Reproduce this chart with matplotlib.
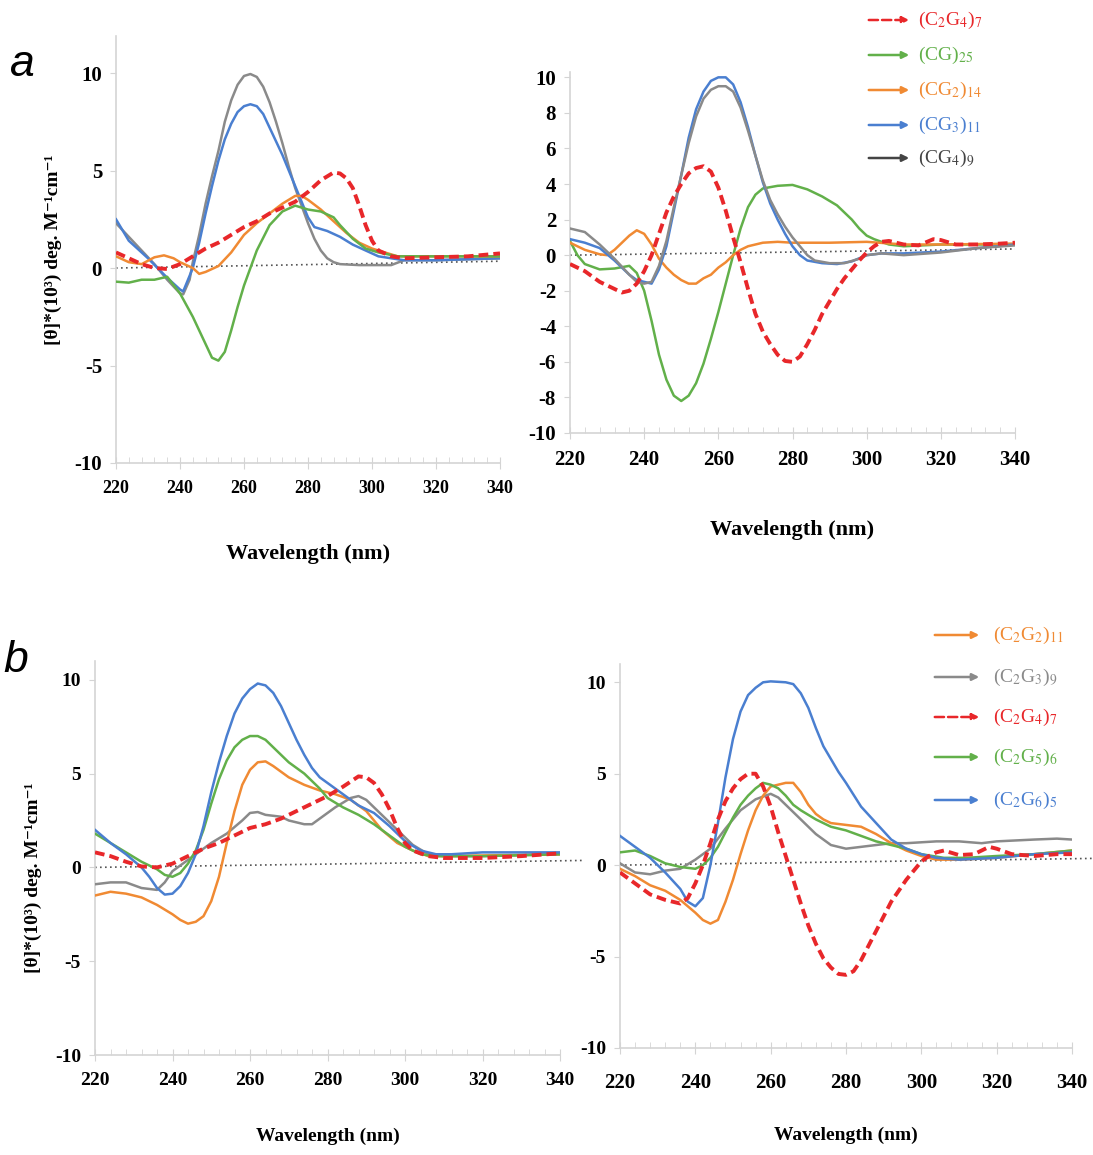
import matplotlib
matplotlib.use('Agg')
import matplotlib.pyplot as plt
from matplotlib.ticker import MultipleLocator

plt.rcParams['font.family'] = ['Liberation Serif', 'DejaVu Serif']
plt.rcParams['mathtext.fontset'] = 'stix'
plt.rcParams['axes.unicode_minus'] = False

W, H = 1093, 1155

# colours of the series
BLUE = '#4a7fd0'
ORANGE = '#f08a33'
GRAY = '#8a8a8a'
GREEN = '#62b04a'
RED = '#e8272a'

# zero reference (dotted)
zero_x = [220, 340]
zero_y = [0, 0.35]
zero_x_b = [220, 346]
zero_y_b = [0, 0.37]

# ---- panel a, left ----
a1_gray = [(220, 2.3), (224, 1.6), (228, 0.9), (232, 0.2), (236, -0.6), (240, -1.3), (241, -1.35), (243, -0.6),
           (244, 0.3), (246, 1.7), (248, 3.3), (250, 4.7), (252, 6.0), (254, 7.5), (256, 8.6), (258, 9.4),
           (260, 9.85), (262, 9.95), (264, 9.8), (266, 9.3), (268, 8.5), (270, 7.5), (272, 6.4), (274, 5.2),
           (276, 4.1), (278, 3.2), (280, 2.3), (282, 1.5), (284, 0.9), (286, 0.5), (288, 0.3), (290, 0.2),
           (296, 0.15), (306, 0.15), (310, 0.4), (320, 0.4), (330, 0.45), (340, 0.5)]
a1_blue = [(220, 2.5), (224, 1.4), (230, 0.5), (236, -0.5), (240, -1.1), (241, -1.2), (244, 0.0), (246, 1.3),
           (248, 2.8), (250, 4.2), (252, 5.5), (254, 6.6), (256, 7.4), (258, 8.0), (260, 8.3), (262, 8.4),
           (264, 8.3), (266, 7.9), (268, 7.2), (270, 6.5), (272, 5.8), (274, 5.0), (276, 4.2), (278, 3.4),
           (280, 2.6), (282, 2.1), (286, 1.9), (290, 1.6), (294, 1.2), (298, 0.9), (302, 0.6), (306, 0.5),
           (310, 0.4), (320, 0.4), (330, 0.45), (340, 0.5)]
a1_orange = [(220, 0.6), (224, 0.3), (228, 0.2), (232, 0.55), (235, 0.65), (238, 0.5), (240, 0.3), (244, 0.0),
             (246, -0.3), (248, -0.2), (252, 0.1), (256, 0.8), (260, 1.7), (264, 2.3), (268, 2.8), (272, 3.3),
             (276, 3.7), (278, 3.7), (280, 3.5), (284, 3.0), (288, 2.4), (292, 1.8), (296, 1.3), (300, 1.0),
             (304, 0.8), (308, 0.6), (320, 0.6), (340, 0.6)]
a1_green = [(220, -0.7), (224, -0.75), (228, -0.6), (232, -0.6), (236, -0.45), (240, -1.3), (244, -2.5),
            (248, -3.9), (250, -4.6), (252, -4.75), (254, -4.3), (256, -3.2), (258, -2.0), (260, -0.9),
            (262, 0.0), (264, 0.9), (268, 2.2), (272, 2.9), (276, 3.2), (278, 3.1), (280, 3.0), (284, 2.9),
            (288, 2.6), (290, 2.2), (294, 1.5), (298, 1.0), (302, 0.8), (308, 0.6), (340, 0.6)]
a1_red = [(220, 0.8), (224, 0.5), (228, 0.2), (232, 0.0), (236, -0.05), (240, 0.2), (244, 0.6), (248, 1.0),
          (252, 1.3), (256, 1.7), (260, 2.1), (264, 2.4), (268, 2.8), (272, 3.1), (276, 3.4), (280, 3.9),
          (284, 4.5), (288, 4.9), (290, 4.85), (292, 4.6), (294, 4.1), (296, 3.2), (298, 2.2), (300, 1.4),
          (302, 0.9), (306, 0.6), (310, 0.5), (320, 0.55), (330, 0.6), (340, 0.75)]

# ---- panel a, right ----
a2_blue = [(220, 0.9), (224, 0.7), (228, 0.4), (232, -0.3), (236, -1.1), (238, -1.4), (240, -1.5), (242, -1.6),
           (244, -0.8), (246, 0.5), (248, 2.5), (250, 4.5), (252, 6.6), (254, 8.2), (256, 9.2), (258, 9.8),
           (260, 10.0), (262, 10.0), (264, 9.6), (266, 8.6), (268, 7.2), (270, 5.6), (272, 4.1), (274, 2.9),
           (276, 2.0), (278, 1.2), (280, 0.5), (282, 0.0), (284, -0.3), (288, -0.45), (292, -0.5), (296, -0.35),
           (300, 0.0), (304, 0.1), (310, 0.1), (320, 0.2), (330, 0.4), (340, 0.6)]
a2_gray = [(220, 1.5), (224, 1.3), (228, 0.6), (232, -0.2), (236, -1.1), (238, -1.5), (240, -1.6), (242, -1.5),
           (244, -0.6), (246, 0.8), (248, 2.7), (250, 4.5), (252, 6.3), (254, 7.8), (256, 8.8), (258, 9.3),
           (260, 9.5), (262, 9.5), (264, 9.2), (266, 8.3), (268, 7.0), (270, 5.6), (272, 4.2), (274, 3.1),
           (276, 2.3), (278, 1.6), (280, 1.0), (282, 0.5), (284, 0.0), (286, -0.3), (290, -0.45), (294, -0.45),
           (298, -0.2), (300, 0.0), (304, 0.1), (310, 0.0), (320, 0.15), (330, 0.4), (340, 0.55)]
a2_green = [(220, 0.8), (222, 0.0), (224, -0.5), (228, -0.8), (232, -0.75), (236, -0.6), (238, -1.0),
            (240, -2.0), (242, -3.7), (244, -5.6), (246, -7.0), (248, -7.9), (250, -8.2), (252, -7.9),
            (254, -7.2), (256, -6.1), (258, -4.7), (260, -3.2), (262, -1.6), (264, 0.0), (266, 1.5), (268, 2.7),
            (270, 3.4), (272, 3.75), (276, 3.9), (280, 3.95), (284, 3.7), (288, 3.3), (292, 2.8), (296, 2.0),
            (298, 1.5), (300, 1.1), (302, 0.9), (306, 0.6), (310, 0.5), (320, 0.6), (340, 0.6)]
a2_orange = [(220, 0.7), (224, 0.3), (228, 0.05), (230, 0.0), (232, 0.3), (236, 1.1), (238, 1.4), (240, 1.2),
             (242, 0.6), (244, -0.2), (246, -0.7), (248, -1.1), (250, -1.4), (252, -1.6), (254, -1.6),
             (256, -1.3), (258, -1.1), (260, -0.7), (262, -0.4), (264, 0.0), (266, 0.3), (268, 0.5), (272, 0.7),
             (276, 0.75), (280, 0.7), (290, 0.7), (300, 0.75), (310, 0.6), (320, 0.6), (340, 0.65)]
a2_red = [(220, -0.5), (224, -0.9), (228, -1.5), (232, -1.9), (234, -2.1), (236, -2.0), (238, -1.6), (240, -0.9),
          (242, 0.0), (244, 1.2), (246, 2.4), (248, 3.3), (250, 4.0), (252, 4.6), (254, 4.9), (256, 5.0),
          (258, 4.7), (260, 3.8), (262, 2.5), (264, 1.0), (266, -0.4), (268, -1.9), (270, -3.3), (272, -4.3),
          (274, -5.0), (276, -5.6), (278, -5.95), (280, -6.0), (282, -5.7), (284, -5.0), (286, -4.2),
          (288, -3.3), (290, -2.6), (292, -1.9), (294, -1.3), (296, -0.8), (298, -0.3), (300, 0.15), (302, 0.5),
          (304, 0.75), (306, 0.8), (310, 0.6), (314, 0.55), (318, 0.9), (320, 0.85), (324, 0.6), (330, 0.6),
          (336, 0.65), (340, 0.7)]

# ---- panel b, left ----
b1_blue = [(220, 2.0), (224, 1.3), (228, 0.7), (232, 0.0), (234, -0.5), (236, -1.1), (238, -1.45), (240, -1.4),
           (242, -1.0), (244, -0.3), (246, 0.7), (248, 2.2), (250, 4.0), (252, 5.6), (254, 7.0), (256, 8.2),
           (258, 9.0), (260, 9.5), (262, 9.8), (264, 9.7), (266, 9.3), (268, 8.6), (270, 7.7), (272, 6.8),
           (274, 6.0), (276, 5.3), (278, 4.8), (280, 4.5), (284, 3.9), (288, 3.3), (292, 2.9), (296, 2.2),
           (300, 1.4), (304, 0.9), (308, 0.7), (312, 0.7), (320, 0.8), (330, 0.8), (340, 0.8)]
b1_green = [(220, 1.8), (224, 1.3), (228, 0.8), (232, 0.3), (236, -0.1), (238, -0.4), (240, -0.5), (242, -0.3),
            (244, 0.2), (246, 0.9), (248, 2.0), (250, 3.4), (252, 4.7), (254, 5.7), (256, 6.4), (258, 6.8),
            (260, 7.0), (262, 7.0), (264, 6.8), (266, 6.4), (268, 6.0), (270, 5.6), (274, 5.0), (278, 4.2),
            (280, 3.7), (284, 3.2), (288, 2.8), (292, 2.3), (296, 1.7), (300, 1.1), (304, 0.7), (308, 0.6),
            (320, 0.6), (340, 0.7)]
b1_orange = [(220, -1.5), (224, -1.3), (228, -1.4), (232, -1.6), (236, -2.0), (240, -2.5), (242, -2.8),
             (244, -3.0), (246, -2.9), (248, -2.6), (250, -1.8), (252, -0.5), (254, 1.3), (256, 3.0), (258, 4.4),
             (260, 5.2), (262, 5.6), (264, 5.65), (266, 5.4), (268, 5.1), (270, 4.8), (274, 4.4), (278, 4.1),
             (282, 3.9), (286, 3.6), (290, 3.0), (294, 2.0), (298, 1.3), (302, 0.9), (306, 0.6), (310, 0.6),
             (340, 0.7)]
b1_gray = [(220, -0.9), (224, -0.8), (228, -0.8), (232, -1.1), (236, -1.2), (238, -0.8), (240, -0.2), (242, 0.1),
           (244, 0.4), (246, 0.7), (248, 1.0), (250, 1.3), (254, 1.8), (258, 2.5), (260, 2.9), (262, 2.95),
           (264, 2.8), (268, 2.7), (270, 2.5), (274, 2.3), (276, 2.3), (278, 2.6), (282, 3.2), (286, 3.7),
           (288, 3.8), (290, 3.6), (294, 2.8), (298, 2.0), (302, 1.2), (306, 0.7), (310, 0.6), (320, 0.6),
           (340, 0.7)]
b1_red = [(220, 0.8), (224, 0.6), (228, 0.3), (232, 0.05), (236, 0.0), (240, 0.2), (244, 0.6), (248, 1.0),
          (252, 1.3), (256, 1.7), (260, 2.1), (264, 2.3), (268, 2.6), (272, 3.0), (276, 3.4), (280, 3.8),
          (284, 4.3), (288, 4.85), (290, 4.8), (292, 4.5), (294, 3.9), (296, 3.1), (298, 2.1), (300, 1.3),
          (302, 0.9), (306, 0.6), (310, 0.5), (320, 0.5), (330, 0.6), (340, 0.75)]

# ---- panel b, right ----
b2_blue = [(220, 1.6), (224, 1.0), (228, 0.4), (232, -0.4), (236, -1.3), (238, -2.0), (240, -2.25), (242, -1.8),
           (244, 0.0), (246, 2.3), (248, 4.8), (250, 6.9), (252, 8.4), (254, 9.3), (256, 9.7), (258, 10.0),
           (260, 10.05), (264, 10.0), (266, 9.9), (268, 9.4), (270, 8.6), (272, 7.5), (274, 6.5), (276, 5.8),
           (278, 5.1), (280, 4.5), (284, 3.2), (288, 2.3), (292, 1.4), (296, 0.9), (300, 0.6), (304, 0.4),
           (310, 0.3), (320, 0.4), (330, 0.6), (340, 0.7)]
b2_gray = [(220, 0.1), (224, -0.4), (228, -0.5), (232, -0.3), (236, -0.2), (240, 0.3), (244, 0.9), (248, 2.0),
           (252, 3.0), (256, 3.6), (260, 3.9), (262, 3.7), (264, 3.3), (268, 2.5), (272, 1.7), (276, 1.1),
           (280, 0.9), (284, 1.0), (288, 1.1), (292, 1.2), (296, 1.2), (300, 1.25), (304, 1.3), (310, 1.3),
           (316, 1.2), (320, 1.3), (330, 1.4), (336, 1.45), (340, 1.4)]
b2_green = [(220, 0.7), (224, 0.8), (228, 0.5), (232, 0.1), (236, -0.1), (240, -0.2), (242, 0.0), (244, 0.4),
            (246, 1.0), (248, 1.8), (250, 2.6), (252, 3.3), (254, 3.8), (256, 4.2), (258, 4.5), (260, 4.4),
            (262, 4.2), (264, 3.8), (266, 3.3), (268, 3.0), (272, 2.5), (276, 2.1), (280, 1.9), (284, 1.6),
            (288, 1.3), (292, 1.1), (296, 0.9), (300, 0.6), (306, 0.4), (312, 0.4), (320, 0.5), (330, 0.6),
            (340, 0.8)]
b2_orange = [(220, -0.2), (224, -0.6), (228, -1.1), (232, -1.4), (236, -1.9), (240, -2.6), (242, -3.0),
             (244, -3.2), (246, -3.0), (248, -2.0), (250, -0.8), (252, 0.6), (254, 1.9), (256, 3.0), (258, 3.8),
             (260, 4.3), (262, 4.4), (264, 4.5), (266, 4.5), (268, 4.0), (270, 3.3), (272, 2.8), (274, 2.5),
             (276, 2.3), (280, 2.2), (284, 2.1), (288, 1.7), (292, 1.2), (296, 0.8), (300, 0.5), (304, 0.3),
             (310, 0.3), (320, 0.4), (330, 0.6), (340, 0.8)]
b2_red = [(220, -0.4), (224, -1.0), (228, -1.6), (232, -1.9), (236, -2.1), (238, -1.8), (240, -1.0), (242, 0.0),
          (244, 1.2), (246, 2.5), (248, 3.5), (250, 4.2), (252, 4.7), (254, 5.0), (256, 5.0), (258, 4.3),
          (260, 3.2), (262, 1.8), (264, 0.5), (266, -0.8), (268, -2.1), (270, -3.3), (272, -4.3), (274, -5.1),
          (276, -5.6), (278, -5.95), (280, -6.0), (282, -5.8), (284, -5.2), (286, -4.4), (288, -3.6),
          (290, -2.8), (292, -2.0), (294, -1.4), (296, -0.8), (298, -0.3), (300, 0.2), (302, 0.5), (304, 0.7),
          (306, 0.8), (310, 0.55), (314, 0.6), (318, 1.0), (320, 0.9), (324, 0.6), (330, 0.5), (336, 0.6),
          (340, 0.6)]

legend_a = [(r'(C$_2$G$_4$)$_7$', RED, '--'), (r'(CG)$_{25}$', GREEN, '-'), (r'(CG$_2$)$_{14}$', ORANGE, '-'),
            (r'(CG$_3$)$_{11}$', BLUE, '-'), (r'(CG$_4$)$_9$', '#444444', '-')]
legend_b = [(r'(C$_2$G$_2$)$_{11}$', ORANGE, '-'), (r'(C$_2$G$_3$)$_9$', GRAY, '-'),
            (r'(C$_2$G$_4$)$_7$', RED, '--'), (r'(C$_2$G$_5$)$_6$', GREEN, '-'), (r'(C$_2$G$_6$)$_5$', BLUE, '-')]

ylabel = '[θ]*(10³) deg. M⁻¹cm⁻¹'


def fx(px):
    return px / W


def fy(py):
    return 1 - py / H


def make_axes(fig, x0, x1, y_bottom, y_top):
    return fig.add_axes([fx(x0), fy(y_bottom), fx(x1) - fx(x0), fy(y_top) - fy(y_bottom)])


def style(ax, ylim, ystep, xsize, ysize, xpad=8):
    ax.set_xlim(220, 340)
    ax.set_ylim(*ylim)
    ax.xaxis.set_major_locator(MultipleLocator(20))
    ax.xaxis.set_minor_locator(MultipleLocator(4))
    ax.yaxis.set_major_locator(MultipleLocator(ystep))
    for s in ['top', 'right']:
        ax.spines[s].set_visible(False)
    for s in ['left', 'bottom']:
        ax.spines[s].set_color('#d4d4d4')
        ax.spines[s].set_linewidth(1.2)
    ax.tick_params(axis='x', which='major', direction='inout', length=8, color='#d4d4d4', pad=xpad)
    ax.tick_params(axis='x', which='minor', direction='in', length=4, color='#d4d4d4')
    ax.tick_params(axis='y', which='major', direction='out', length=4, color='#d4d4d4', pad=6)
    for lab in ax.get_xticklabels():
        lab.set_fontweight('bold')
        lab.set_fontsize(xsize)
    for lab in ax.get_yticklabels():
        lab.set_fontweight('bold')
        lab.set_fontsize(ysize)


def draw(ax, series, zx, zy):
    ax.plot(zx, zy, color='#555555', lw=1.2, ls=(0, (1, 2)), zorder=1, clip_on=False)
    for data, color in series:
        xs = [p[0] for p in data]
        ys = [p[1] for p in data]
        if color == RED:
            ax.plot(xs, ys, color=color, lw=2.8, ls=(0, (2.5, 1.3)), zorder=5)
        else:
            ax.plot(xs, ys, color=color, lw=1.8, zorder=3)


def legend(fig, items, x_start, x_end, x_text, rows, size):
    for (label, color, ls), y in zip(items, rows):
        fig.add_artist(matplotlib.patches.FancyArrowPatch(
            (fx(x_start), fy(y)), (fx(x_end), fy(y)), transform=fig.transFigure,
            arrowstyle='-|>', mutation_scale=10, color=color, lw=1.8,
            linestyle='--' if ls == '--' else '-'))
        fig.text(fx(x_text), fy(y), label, color=color, fontsize=size, va='center', ha='left')


fig = plt.figure(figsize=(W / 100, H / 100), dpi=100)

# a left
ax1 = make_axes(fig, 116, 500, 463, 36)
draw(ax1, [(a1_gray, GRAY), (a1_blue, BLUE), (a1_orange, ORANGE), (a1_green, GREEN), (a1_red, RED)],
     zero_x, zero_y)
style(ax1, (-10, 11.9), 5, 13, 15)
ax1.set_xlabel('Wavelength (nm)', fontsize=16, fontweight='bold', labelpad=34)
ax1.set_ylabel(ylabel, fontsize=14, fontweight='bold')
ax1.yaxis.set_label_coords(-0.14, 0.5)

# a right
ax2 = make_axes(fig, 570, 1015, 433, 72)
draw(ax2, [(a2_green, GREEN), (a2_orange, ORANGE), (a2_blue, BLUE), (a2_gray, GRAY), (a2_red, RED)],
     zero_x, zero_y)
style(ax2, (-10, 10.3), 2, 15, 15)
ax2.set_xlabel('Wavelength (nm)', fontsize=16, fontweight='bold', labelpad=36)

# b left
ax3 = make_axes(fig, 95, 560, 1055, 661)
draw(ax3, [(b1_gray, GRAY), (b1_orange, ORANGE), (b1_green, GREEN), (b1_blue, BLUE), (b1_red, RED)],
     zero_x_b, zero_y_b)
style(ax3, (-10, 11), 5, 14, 14)
ax3.set_xlabel('Wavelength (nm)', fontsize=14, fontweight='bold', labelpad=28)
ax3.set_ylabel(ylabel, fontsize=14, fontweight='bold')
ax3.yaxis.set_label_coords(-0.114, 0.45)

# b right
ax4 = make_axes(fig, 620, 1072, 1048, 664)
draw(ax4, [(b2_gray, GRAY), (b2_orange, ORANGE), (b2_green, GREEN), (b2_blue, BLUE), (b2_red, RED)],
     zero_x_b, zero_y_b)
style(ax4, (-10, 11), 5, 15, 14, xpad=14)
ax4.set_xlabel('Wavelength (nm)', fontsize=14, fontweight='bold', labelpad=24)

legend(fig, legend_a, 866, 912, 918, [20, 55, 90, 125, 158], 14)
legend(fig, legend_b, 932, 982, 993, [635, 677, 717, 757, 800], 14)

fig.text(fx(22), fy(65), 'a', fontsize=32, style='italic', family='Liberation Sans', ha='center', va='center')
fig.text(fx(16), fy(660), 'b', fontsize=32, style='italic', family='Liberation Sans', ha='center', va='center')

fig.savefig('out.png', dpi=100, facecolor='white')
